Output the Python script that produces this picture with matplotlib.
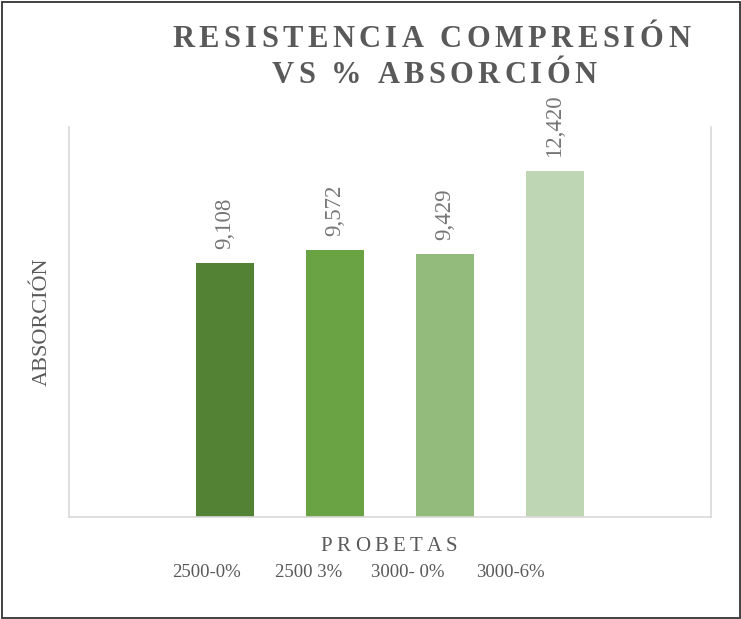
import matplotlib
matplotlib.use('Agg')
import matplotlib.pyplot as plt
from matplotlib.font_manager import FontProperties
from matplotlib.patches import Rectangle

# ---- data ----
categories = ['2500-0%', '2500 3%', '3000- 0%', '3000-6%']
values = [9.108, 9.572, 9.429, 12.420]
value_labels = ['9,108', '9,572', '9,429', '12,420']
title_lines = ['RESISTENCIA COMPRESIÓN', 'VS % ABSORCIÓN']
y_label = 'ABSORCIÓN'
x_label = 'PROBETAS'
bar_colors = ['#548235', '#6aa343', '#93bb7c', '#bed6b4']

W, H = 741, 619
SERIF = 'Liberation Serif'
GRAY = '#595959'

fig = plt.figure(figsize=(W / 100, H / 100), dpi=100)
ax = fig.add_axes([69 / W, 1 - 517 / H, (711 - 69) / W, (517 - 127) / H])

xpos = list(range(len(values)))
bars = ax.bar(xpos, values, width=58 / 110, color=bar_colors, zorder=2)
ax.set_xlim(-1.418, len(values) - 1 + 1.418)
ax.set_ylim(0, 14)
ax.set_xticks([])
ax.set_yticks([])
for side in ['left', 'right', 'bottom']:
    ax.spines[side].set_color('#d9d9d9')
    ax.spines[side].set_linewidth(1.2)
ax.spines['top'].set_visible(False)

for bar, lab in zip(bars, value_labels):
    ax.annotate(lab, (bar.get_x() + bar.get_width() / 2, bar.get_height()),
                xytext=(0, 10), textcoords='offset points', rotation=90,
                ha='center', va='bottom', family=SERIF, fontsize=16.5,
                color='#767676', annotation_clip=False)

renderer = fig.canvas.get_renderer()


def spaced_text(s, xc_px, ybase_px, target_w_px, fp, color):
    widths = []
    for c in s:
        if c == ' ':
            widths.append(0.25 * fp.get_size_in_points() * 100 / 72)
        else:
            w, h, d = renderer.get_text_width_height_descent(c, fp, ismath=False)
            widths.append(w)
    n = len(s)
    track = (target_w_px - sum(widths)) / (n - 1)
    x = xc_px - target_w_px / 2
    for c, w in zip(s, widths):
        if c != ' ':
            fig.text(x / W, 1 - ybase_px / H, c, fontproperties=fp, color=color,
                     ha='left', va='baseline')
        x += w + track


fp_title = FontProperties(family=SERIF, weight='bold', size=22)
spaced_text(title_lines[0], 431, 47, 518, fp_title, GRAY)
spaced_text(title_lines[1], 434, 83, 325, fp_title, GRAY)

fp_xlab = FontProperties(family=SERIF, size=15)
spaced_text(x_label, 389, 551, 137, fp_xlab, GRAY)

fig.text(42 / W, 1 - 322 / H, y_label, rotation=90, ha='center', va='center',
         family=SERIF, fontsize=16, color=GRAY)

label_left_px = [172, 275, 371, 476]
for cat, lx in zip(categories, label_left_px):
    fig.text(lx / W, 1 - 577 / H, cat, ha='left', va='baseline',
             family=SERIF, fontsize=13.5, color=GRAY)

fig.add_artist(Rectangle((1.5 / W, 1.5 / H), (W - 3) / W, (H - 3) / H,
                         transform=fig.transFigure, fill=False,
                         edgecolor='#333333', linewidth=1.3))

fig.savefig('out.png', dpi=100)
